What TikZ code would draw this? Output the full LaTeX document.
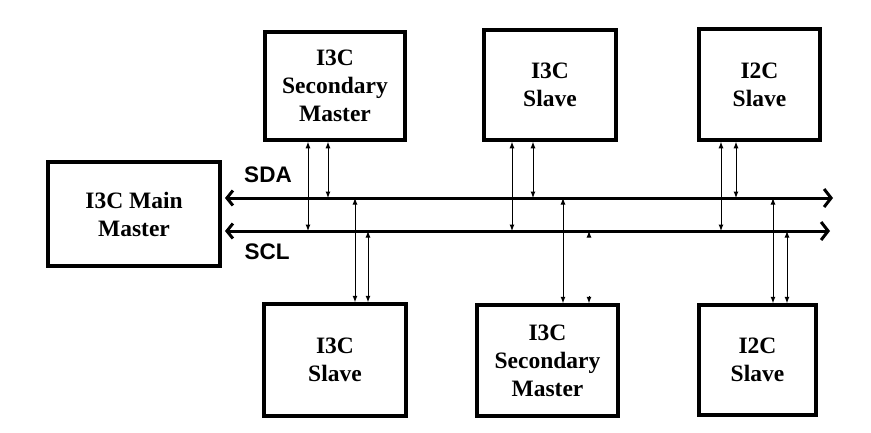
\documentclass[tikz,border=0pt]{standalone}
\usepackage{fontspec}
\setmainfont{Liberation Serif}
\newfontfamily\arialfont{Liberation Sans}
\usetikzlibrary{arrows.meta}
\tikzset{
 unit/.style={draw,line width=3.5pt,inner sep=0pt,align=center,font=\bfseries\fontsize{23.5}{28}\selectfont},
 bus/.style={line width=3pt,{Straight Barb[length=6pt,width=15pt]}-{Straight Barb[length=7pt,width=18pt]}},
 link/.style={line width=1pt,{Latex[length=6.5pt,width=5pt]}-{Latex[length=6.5pt,width=5pt]}},
 sig/.style={font=\arialfont\bfseries\fontsize{22.5}{24}\selectfont}
}
\begin{document}
\begin{tikzpicture}[x=1pt,y=-1pt]
\useasboundingbox (0,0) rectangle (871,432);
\node[unit,minimum width=172pt,minimum height=104pt] (main) at (134,214) {I3C Main\\Master};
\node[unit,minimum width=140pt,minimum height=108pt] (tsm) at (335,86) {I3C\\Secondary\\Master};
\node[unit,minimum width=132pt,minimum height=110pt] (tsl) at (550,85) {I3C\\Slave};
\node[unit,minimum width=121pt,minimum height=111pt] (ti2c) at (759.5,84.5) {I2C\\Slave};
\node[unit,minimum width=142pt,minimum height=112pt] (bsl) at (335,360) {I3C\\Slave};
\node[unit,minimum width=141pt,minimum height=111pt] (bsm) at (547.5,360.5) {I3C\\Secondary\\Master};
\node[unit,minimum width=117pt,minimum height=110pt] (bi2c) at (757.5,360) {I2C\\Slave};
\coordinate (sdaW) at (225,198); \coordinate (sdaE) at (833,198);
\coordinate (sclW) at (225,231); \coordinate (sclE) at (830,231);
\draw[bus] (sdaW)--(sdaE);
\draw[bus] (sclW)--(sclE);
\node[sig] (sda) at (268,175) {SDA};
\node[sig] (scl) at (267,252) {SCL};
\draw[link] ([xshift=-27pt]tsm.south)--([xshift=-27pt]tsm.south |- sclW);
\draw[link] ([xshift=-7pt]tsm.south)--([xshift=-7pt]tsm.south |- sdaW);
\draw[link] ([xshift=-38pt]tsl.south)--([xshift=-38pt]tsl.south |- sclW);
\draw[link] ([xshift=-17pt]tsl.south)--([xshift=-17pt]tsl.south |- sdaW);
\draw[link] ([xshift=-38.5pt]ti2c.south)--([xshift=-38.5pt]ti2c.south |- sclW);
\draw[link] ([xshift=-23.5pt]ti2c.south)--([xshift=-23.5pt]ti2c.south |- sdaW);
\draw[link] ([xshift=20pt]bsl.north |- sdaW)--([xshift=20pt]bsl.north);
\draw[link] ([xshift=33pt]bsl.north |- sclW)--([xshift=33pt]bsl.north);
\draw[link] ([xshift=15.5pt]bsm.north |- sdaW)--([xshift=15.5pt]bsm.north);
\draw[link,{Latex[length=6.5pt,width=5pt]}-] ([xshift=41.5pt]bsm.north |- sclW)--++(0,4);
\draw[link,-{Latex[length=6.5pt,width=5pt]}] ([xshift=41.5pt,yshift=7pt]bsm.north)--([xshift=41.5pt]bsm.north);
\draw[link] ([xshift=15.5pt]bi2c.north |- sdaW)--([xshift=15.5pt]bi2c.north);
\draw[link] ([xshift=29.5pt]bi2c.north |- sclW)--([xshift=29.5pt]bi2c.north);
\end{tikzpicture}
\end{document}
